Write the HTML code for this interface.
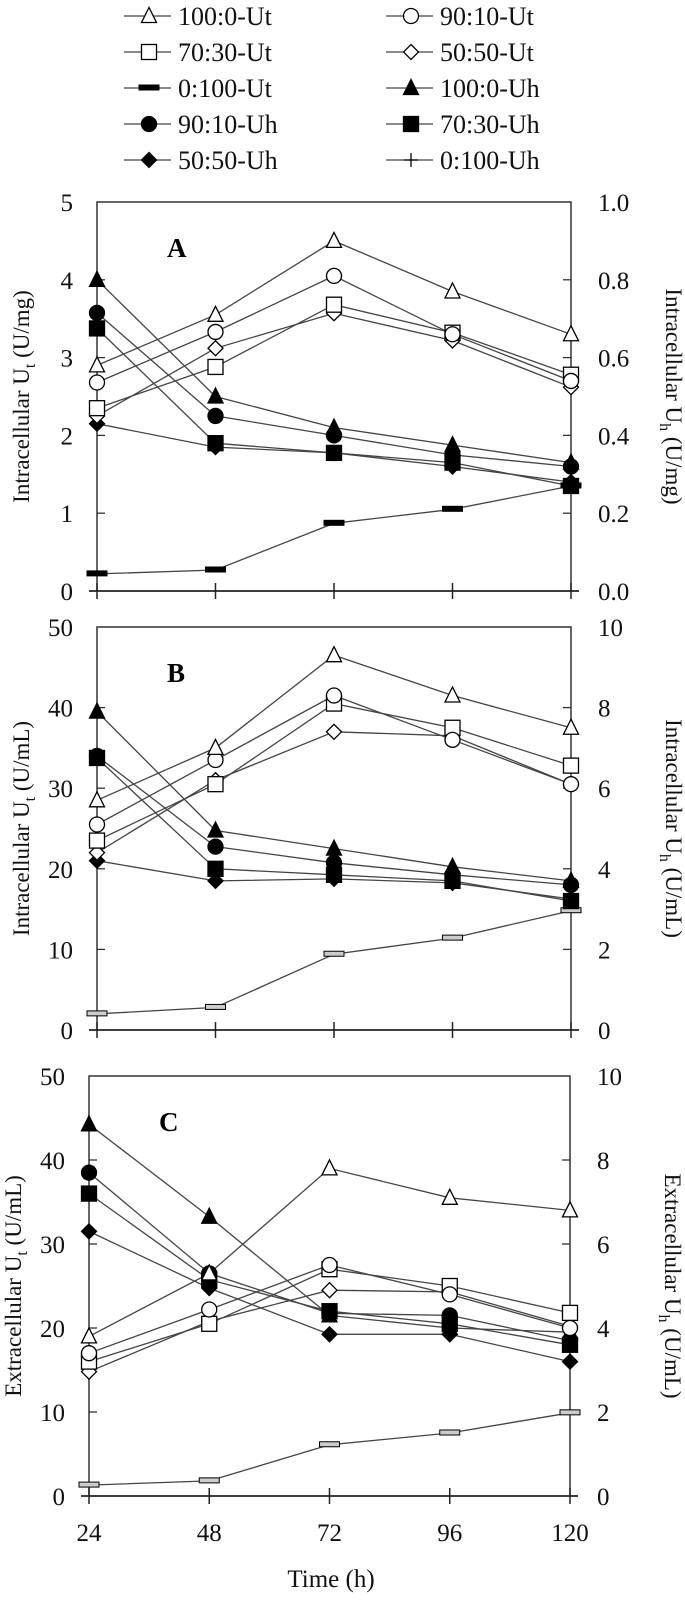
<!DOCTYPE html>
<html><head><meta charset="utf-8"><style>
html,body{margin:0;padding:0;background:#fff;}
svg{display:block;font-family:"Liberation Serif",serif;}
</style></head><body>
<svg id="chart" width="685" height="1600" viewBox="0 0 685 1600" xmlns="http://www.w3.org/2000/svg"></svg>
<script>
const times = [24, 48, 72, 96, 120];
const xTickLabels = ["24","48","72","96","120"];
const seriesNames = ["100:0","90:10","70:30","50:50","0:100"];
// Panel A (Ut left 0-5, Uh right 0-1)
const aUt100 = [2.9, 3.55, 4.5, 3.85, 3.3];
const aUt90 = [2.68, 3.33, 4.05, 3.3, 2.7];
const aUt70 = [2.35, 2.88, 3.68, 3.32, 2.78];
const aUt50 = [2.25, 3.12, 3.57, 3.22, 2.62];
const aUt0 = [0.22, 0.27, 0.87, 1.05, 1.35];
const aUh100 = [0.80, 0.50, 0.42, 0.375, 0.33];
const aUh90 = [0.715, 0.45, 0.40, 0.35, 0.32];
const aUh70 = [0.675, 0.38, 0.355, 0.33, 0.27];
const aUh50 = [0.43, 0.37, 0.355, 0.32, 0.28];
// Panel B (Ut left 0-50, Uh right 0-10)
const bUt100 = [28.5, 35, 46.5, 41.5, 37.5];
const bUt90 = [25.5, 33.5, 41.5, 36, 30.5];
const bUt70 = [23.5, 30.5, 40.5, 37.5, 32.8];
const bUt50 = [22, 31, 37, 36.5, 30.5];
const bUt0 = [2, 2.8, 9.4, 11.4, 14.8];
const bUh100 = [7.9, 4.95, 4.5, 4.05, 3.7];
const bUh90 = [6.8, 4.55, 4.15, 3.85, 3.6];
const bUh70 = [6.75, 4.0, 3.85, 3.7, 3.2];
const bUh50 = [4.2, 3.7, 3.75, 3.65, 3.25];
// Panel C
const cUt100 = [19, 26.5, 39, 35.5, 34];
const cUt90 = [17, 22.2, 27.5, 24, 20];
const cUt70 = [16, 20.5, 27, 25, 21.8];
const cUt50 = [14.8, 20.8, 24.5, 24.3, 20.2];
const cUt0 = [1.3, 1.8, 6.1, 7.5, 9.9];
const cUh100 = [8.85, 6.65, 4.3, 4.0, 3.9];
const cUh90 = [7.7, 5.3, 4.35, 4.3, 3.7];
const cUh70 = [7.2, 5.15, 4.4, 4.1, 3.6];
const cUh50 = [6.3, 4.95, 3.85, 3.85, 3.2];
const aLeftTicks = ["0","1","2","3","4","5"];
const aRightTicks = ["0.0","0.2","0.4","0.6","0.8","1.0"];
const bLeftTicks = ["0","10","20","30","40","50"];
const bRightTicks = ["0","2","4","6","8","10"];

const svg = document.getElementById('chart');
const NS = "http://www.w3.org/2000/svg";
function mk(tag, attrs, parent){
  const e = document.createElementNS(NS, tag);
  for (const k in attrs) e.setAttribute(k, attrs[k]);
  (parent||svg).appendChild(e);
  return e;
}
const LINE = "#444";

function marker(g, type, cx, cy){
  const s = 7.5;
  let e;
  const open = type.startsWith('o');
  const fill = open ? "#fff" : "#000";
  const shape = type.slice(1);
  if (shape === 'tri') e = mk('polygon',{points:`${cx},${cy-s-1} ${cx-s},${cy+s-1} ${cx+s},${cy+s-1}`,fill,stroke:"#000","stroke-width":1.3},g);
  else if (shape === 'cir') e = mk('circle',{cx,cy,r:s,fill,stroke:"#000","stroke-width":1.3},g);
  else if (shape === 'sq') e = mk('rect',{x:cx-s,y:cy-s,width:2*s,height:2*s,fill,stroke:"#000","stroke-width":1.3},g);
  else if (shape === 'dia') e = mk('polygon',{points:`${cx},${cy-s} ${cx+s},${cy} ${cx},${cy+s} ${cx-s},${cy}`,fill,stroke:"#000","stroke-width":1.3},g);
  else if (shape === 'dash') e = mk('rect',{x:cx-10,y:cy-3,width:20,height:5,fill:open?"#ccc":"#000",stroke:"#000","stroke-width":1},g);
  else if (shape === 'plus') e = mk('path',{d:`M${cx-7},${cy}H${cx+7}M${cx},${cy-7}V${cy+7}`,stroke:"#000","stroke-width":1.3},g);
  
  
  return e;
}

function panel(p){
  const g = mk('g',{});
  
  
  const xs = t => p.L + (t - 24) / 96 * (p.R - p.L);
  const yl = v => p.B - v / p.lmax * (p.B - p.T);
  const yr = v => p.B - v / p.rmax * (p.B - p.T);
  const box = mk('path',{d:`M${p.L},${p.B}V${p.T}H${p.R}V${p.B}`,fill:"none",stroke:"#333","stroke-width":1.5},g);
  
  
  const xa = mk('line',{x1:p.L-8,y1:p.B,x2:p.R+8,y2:p.B,stroke:"#222","stroke-width":1.8},g);
  
  
  times.forEach((t,i)=>{
    mk('line',{x1:xs(t),y1:p.B-8,x2:xs(t),y2:p.B+8,stroke:"#222","stroke-width":1.5},g);
    if (p.xlabels){
      const tx = mk('text',{x:xs(t),y:p.B+45,"font-size":25,"text-anchor":"middle",fill:"#111"},g);
      tx.textContent = xTickLabels[i];
      
      
    }
  });
  p.lt.forEach((lab,i)=>{
    const y = p.B - i/(p.lt.length-1)*(p.B-p.T);
    if (i>0 && i<p.lt.length-1){
      mk('line',{x1:p.L,y1:y,x2:p.L+8,y2:y,stroke:"#333","stroke-width":1.3},g);
      mk('line',{x1:p.R-8,y1:y,x2:p.R,y2:y,stroke:"#333","stroke-width":1.3},g);
    }
    const t1 = mk('text',{x:p.L-24,y:y+9,"font-size":25,"text-anchor":"end",fill:"#111"},g);
    t1.textContent = lab;
    
    
    const t2 = mk('text',{x:p.R+27,y:y+9,"font-size":25,"text-anchor":"start",fill:"#111"},g);
    t2.textContent = p.rt[i];
    
    
  });
  const cy = (p.T + p.B)/2;
  const lt = mk('text',{x:0,y:0,"font-size":23,"text-anchor":"middle",fill:"#111",transform:`translate(${p.L-68},${cy}) rotate(-90)`},g);
  lt.innerHTML = p.pre + ' U<tspan font-size="16" dy="6">t</tspan><tspan dy="-6"> ' + p.unit + '</tspan>';
  
  
  const rt = mk('text',{x:0,y:0,"font-size":23,"text-anchor":"middle",fill:"#111",transform:`translate(${p.R+95},${cy}) rotate(90)`},g);
  rt.innerHTML = p.pre + ' U<tspan font-size="16" dy="6">h</tspan><tspan dy="-6"> ' + p.unit + '</tspan>';
  
  
  const pl = mk('text',{x:p.L+70,y:p.T+55,"font-size":27,"font-weight":"bold",fill:"#000"},g);
  pl.textContent = p.id;
  
  

  const all = [
    [p.ut[4],'fdash',yl],[p.uh[3],'fdia',yr],[p.uh[2],'fsq',yr],[p.uh[1],'fcir',yr],[p.uh[0],'ftri',yr],
    [p.ut[3],'odia',yl],[p.ut[2],'osq',yl],[p.ut[1],'ocir',yl],[p.ut[0],'otri',yl]
  ];
  if (p.id !== 'A') all[0][1] = 'odash';
  all.forEach(([vals,type,ys])=>{
    const sg = mk('g',{},g);
    
    
    const d = vals.map((v,i)=>(i?'L':'M')+xs(times[i]).toFixed(1)+','+ys(v).toFixed(1)).join('');
    mk('path',{d,fill:"none",stroke:LINE,"stroke-width":1.3},sg);
  });
  all.forEach(([vals,type,ys])=>{
    vals.forEach((v,i)=>marker(g,type,xs(times[i]),ys(v)));
  });
}

panel({id:'A',L:97,R:571,T:202,B:591,lmax:5,rmax:1,lt:aLeftTicks,rt:aRightTicks,
  ut:[aUt100,aUt90,aUt70,aUt50,aUt0],uh:[aUh100,aUh90,aUh70,aUh50],pre:'Intracellular',unit:'(U/mg)',xlabels:false});
panel({id:'B',L:97,R:571,T:627,B:1030,lmax:50,rmax:10,lt:bLeftTicks,rt:bRightTicks,
  ut:[bUt100,bUt90,bUt70,bUt50,bUt0],uh:[bUh100,bUh90,bUh70,bUh50],pre:'Intracellular',unit:'(U/mL)',xlabels:false});
panel({id:'C',L:89,R:570,T:1076,B:1496,lmax:50,rmax:10,lt:bLeftTicks,rt:bRightTicks,
  ut:[cUt100,cUt90,cUt70,cUt50,cUt0],uh:[cUh100,cUh90,cUh70,cUh50],pre:'Extracellular',unit:'(U/mL)',xlabels:true});

const xt = mk('text',{x:331,y:1587,"font-size":25,"text-anchor":"middle",fill:"#111"});
xt.textContent = 'Time (h)';



// legend
const legendLabels = ["100:0-Ut","90:10-Ut","70:30-Ut","50:50-Ut","0:100-Ut","100:0-Uh","90:10-Uh","70:30-Uh","50:50-Uh","0:100-Uh"];
const legendTypes = ['otri','ocir','osq','odia','fdash','ftri','fcir','fsq','fdia','fplus'];
const lg = mk('g',{});


legendLabels.forEach((lab,i)=>{
  const col = i%2, row = Math.floor(i/2);
  const cx = col ? 411 : 149;
  const y = 16 + row*36;
  const eg = mk('g',{},lg);
  
  
  mk('line',{x1:cx-25,y1:y,x2:cx+22,y2:y,stroke:LINE,"stroke-width":1.3},eg);
  marker(eg, legendTypes[i], cx, y);
  const t = mk('text',{x:cx+29,y:y+9,"font-size":26,fill:"#111"},eg);
  t.textContent = lab;
});
</script>
</body></html>
